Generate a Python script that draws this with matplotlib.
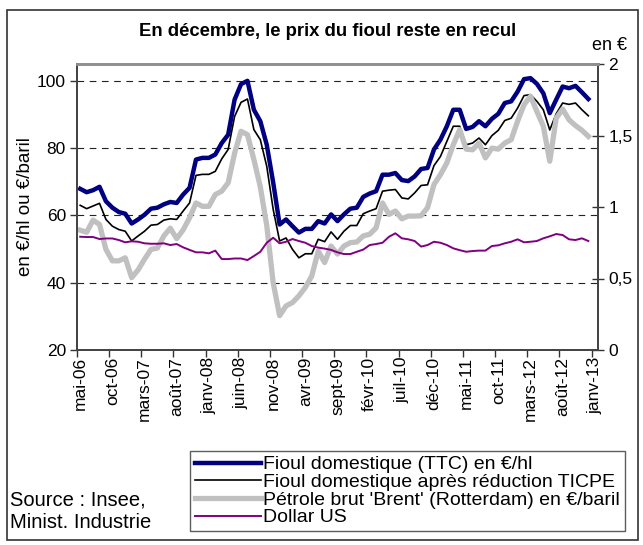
import numpy as np
import matplotlib
matplotlib.use('Agg')
import matplotlib.pyplot as plt
from matplotlib.patches import Rectangle

plt.rcParams['font.family'] = ['Liberation Sans', 'DejaVu Sans']

# mois : mai-06 ... janv-13 (81 categories, derniere sans valeur)
mois_fr = ['janv', 'févr', 'mars', 'avr', 'mai', 'juin', 'juil', 'août', 'sept', 'oct', 'nov', 'déc']
categories = []
for k in range(81):
    m = (4 + k) % 12
    a = 6 + (4 + k) // 12
    categories.append('%s-%02d' % (mois_fr[m], a))

fioul_ttc = [67.9, 66.9, 67.5, 68.5, 64.2, 62.3, 61.0, 60.5, 57.6, 58.8,
             60.2, 62.0, 62.3, 63.3, 64.0, 63.7, 66.2, 68.2, 76.6, 77.1,
             77.1, 78.1, 81.5, 84.0, 94.4, 99.0, 100.0, 91.4, 88.0, 81.0,
             69.8, 57.3, 58.8, 56.8, 54.9, 56.0, 56.0, 58.3, 57.6, 60.3,
             58.3, 60.3, 62.0, 62.3, 65.5, 66.5, 67.2, 72.1, 72.1, 72.6,
             70.5, 70.2, 71.6, 73.8, 74.1, 79.6, 82.5, 86.5, 91.4, 91.4,
             85.7, 86.3, 88.0, 86.5, 88.7, 90.2, 93.4, 93.9, 96.8, 100.5,
             100.8, 99.1, 96.3, 90.4, 94.4, 98.3, 97.8, 98.5, 96.6, 94.6]

fioul_ticpe = [63.0, 62.0, 62.8, 63.6, 58.8, 56.8, 55.8, 55.3, 52.4, 53.9,
               55.3, 57.1, 57.3, 58.6, 59.0, 58.8, 61.3, 63.7, 71.9, 72.2,
               72.2, 73.1, 76.8, 79.6, 89.4, 93.6, 94.6, 85.5, 82.5, 74.6,
               61.8, 52.4, 53.3, 49.9, 47.4, 48.6, 48.6, 52.9, 52.2, 55.1,
               52.9, 55.3, 57.0, 57.0, 60.5, 61.3, 62.0, 67.2, 67.5, 67.7,
               65.2, 64.9, 66.7, 68.9, 69.1, 74.8, 77.5, 82.0, 86.5, 86.5,
               81.0, 81.5, 83.0, 81.0, 83.7, 85.3, 88.2, 88.9, 91.9, 95.6,
               95.9, 93.9, 91.4, 85.4, 90.2, 93.4, 93.0, 93.4, 91.4, 89.6]

brent = [55.6, 55.0, 58.6, 57.3, 49.9, 46.5, 46.5, 47.4, 41.5, 43.8,
         47.0, 49.9, 50.3, 53.9, 56.2, 53.1, 55.7, 59.3, 63.7, 62.7,
         62.7, 66.2, 67.2, 69.7, 78.5, 85.0, 84.0, 76.6, 68.5, 57.0,
         40.0, 30.2, 33.1, 34.1, 36.1, 38.6, 42.0, 49.4, 46.0, 50.9,
         48.5, 50.9, 51.9, 52.1, 53.9, 54.4, 56.3, 63.7, 60.3, 61.3,
         59.0, 59.8, 59.8, 59.9, 62.3, 69.2, 72.1, 75.6, 81.0, 85.5,
         79.7, 79.5, 81.5, 77.1, 80.0, 79.7, 81.5, 82.5, 88.0, 92.9,
         95.4, 90.9, 86.5, 76.1, 88.9, 91.6, 88.4, 86.7, 85.3, 83.5]

dollar = [0.792, 0.79, 0.79, 0.776, 0.78, 0.78, 0.769, 0.753, 0.76, 0.757,
          0.746, 0.743, 0.743, 0.746, 0.734, 0.741, 0.718, 0.70, 0.683, 0.683,
          0.676, 0.695, 0.636, 0.636, 0.64, 0.64, 0.629, 0.657, 0.687, 0.75,
          0.785, 0.746, 0.757, 0.776, 0.762, 0.75, 0.727, 0.716, 0.709, 0.70,
          0.683, 0.671, 0.671, 0.687, 0.702, 0.734, 0.741, 0.75, 0.792, 0.816,
          0.781, 0.774, 0.762, 0.723, 0.734, 0.757, 0.75, 0.734, 0.711, 0.698,
          0.687, 0.692, 0.695, 0.695, 0.727, 0.732, 0.746, 0.757, 0.774, 0.753,
          0.757, 0.762, 0.781, 0.795, 0.811, 0.804, 0.774, 0.769, 0.781, 0.762]

labels = ['Fioul domestique (TTC) en €/hl',
          'Fioul domestique après réduction TICPE',
          "Pétrole brut 'Brent' (Rotterdam) en €/baril",
          'Dollar US']

W, H = 643, 545
fig = plt.figure(figsize=(W / 100, H / 100), dpi=100)
ax = fig.add_axes([77 / W, 1 - 350 / H, (598 - 77) / W, (350 - 64) / H])
ax2 = ax.twinx()

x = np.arange(len(fioul_ttc))
l1, = ax.plot(x, fioul_ttc, color='#000080', lw=3.2, solid_joinstyle='round', zorder=3)
l2, = ax.plot(x, fioul_ticpe, color='black', lw=1.2, zorder=3)
l3, = ax.plot(x, brent, color='#c0c0c0', lw=3.8, solid_joinstyle='round', zorder=3)
l4, = ax2.plot(x, dollar, color='#800080', lw=1.4, zorder=3)

ax.set_xlim(-0.5, len(categories) - 0.5)
ax.set_ylim(20, 105)
ax2.set_ylim(0, 2)

ax.set_yticks([20, 40, 60, 80, 100])
ax2.set_yticks([0, 0.5, 1, 1.5, 2])
ax2.set_yticklabels(['0', '0,5', '1', '1,5', '2'])

for g in [40, 60, 80, 100]:
    ax.axhline(g, color='#222222', lw=0.8, ls=(0, (6, 5)), zorder=1)

ax.set_xticks(np.arange(0, len(categories), 5))
ax.set_xticklabels(categories[::5], rotation=90)
ax.set_xticks(np.arange(0, len(categories), 5) - 0.5, minor=True)
ax.tick_params(axis='x', which='major', length=0, pad=5, labelsize=12.5)
ax.tick_params(axis='x', which='minor', length=5, width=1, color='#333333')
ax.tick_params(axis='y', length=5, width=1, labelsize=12.5, pad=3, color='#333333')
ax2.tick_params(axis='y', direction='inout', length=9, width=1, labelsize=12.5, pad=3, color='#333333')

for a in (ax, ax2):
    for s in ['left', 'right', 'bottom']:
        a.spines[s].set_color('#444444')
        a.spines[s].set_linewidth(1.3)
    a.spines['top'].set_color('#909090')
    a.spines['top'].set_linewidth(2)

ax.set_ylabel('en €/hl ou €/baril', fontsize=13.5)
ax.yaxis.set_label_coords(-(77 - 34) / (598 - 77), 0.5)

fig.text(0.51, 1 - 32 / H, 'En décembre, le prix du fioul reste en recul',
         ha='center', va='center', fontsize=13.3, fontweight='bold')
fig.text(609 / W, 1 - 46 / H, 'en €', ha='center', va='center', fontsize=13)
fig.text(10 / W, 1 - 500 / H, 'Source : Insee,', ha='left', va='center', fontsize=14.5)
fig.text(10 / W, 1 - 523 / H, 'Minist. Industrie', ha='left', va='center', fontsize=14.5)

leg = fig.legend([l1, l2, l3, l4], labels, loc='upper left',
                 bbox_to_anchor=(190 / W, 1 - 451 / H), fontsize=14,
                 frameon=True, fancybox=False, edgecolor='#333333',
                 handlelength=3.4, handletextpad=0.1, labelspacing=0.0,
                 borderpad=0.25, borderaxespad=0)
leg.get_frame().set_linewidth(1.0)

fig.patches.append(Rectangle((7 / W, 1 - 540 / H), (638 - 7) / W, (540 - 10) / H,
                             transform=fig.transFigure, fill=False,
                             edgecolor='#333333', lw=1.2))

fig.savefig('out.png', dpi=100)
